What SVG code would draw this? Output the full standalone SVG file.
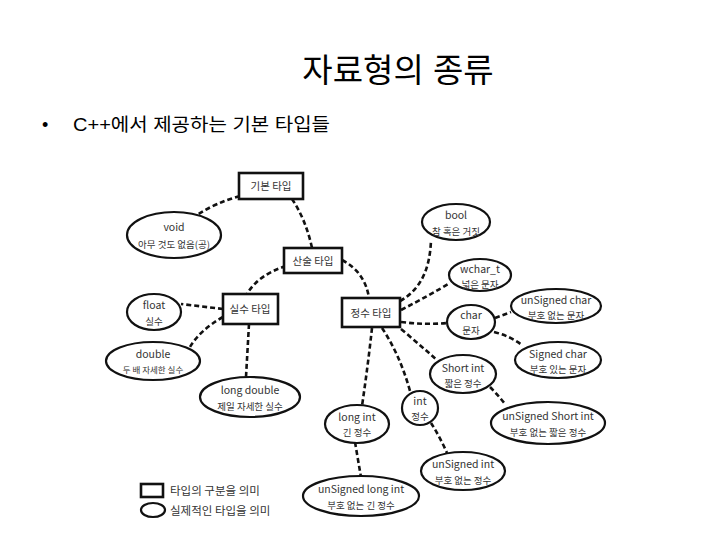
<svg xmlns="http://www.w3.org/2000/svg" width="728" height="546" viewBox="0 0 728 546">
<style>
.bg{fill:#fff}
.title{font-family:"Liberation Sans","Noto Sans CJK KR",sans-serif;font-size:33px;fill:#000}
.sub{font-family:"Liberation Sans","Noto Sans CJK KR",sans-serif;font-size:18px;fill:#000}
.box{fill:#fff;stroke:#111;stroke-width:2.6}
.ell{fill:#fff;stroke:#111;stroke-width:2.2}
.t{font-family:"Noto Sans CJK KR","Noto Sans",sans-serif;font-size:10.5px;fill:#333;text-anchor:middle}
.k{font-size:9.5px}
.lg{font-family:"Noto Sans CJK KR","Noto Sans",sans-serif;font-size:11.5px;fill:#333}
.c{fill:none;stroke:#111;stroke-width:2.6;stroke-dasharray:5 3}
</style>
<rect class="bg" width="728" height="546"/>
<text class="title" x="398" y="82" text-anchor="middle">자료형의 종류</text>
<text class="sub" x="42" y="131">•</text>
<text class="sub" x="73" y="131" textLength="257" lengthAdjust="spacingAndGlyphs">C++에서 제공하는 기본 타입들</text>

<g id="connectors">
<path class="c" d="M240,196 Q215,203 197,215"/>
<path class="c" d="M292,199 Q306,220 312,248"/>
<path class="c" d="M286,266 Q258,275 247,294"/>
<path class="c" d="M342,260 Q365,272 369,298"/>
<path class="c" d="M223,309 L181,304"/>
<path class="c" d="M223,317 Q200,330 190,347"/>
<path class="c" d="M249,324 L246,377"/>
<path class="c" d="M400,301 C420,290 430,270 431,240"/>
<path class="c" d="M401,310 Q430,295 450,283"/>
<path class="c" d="M401,322 Q425,325 447,323"/>
<path class="c" d="M401,329 Q420,345 437,360"/>
<path class="c" d="M382,328 Q400,355 410,391"/>
<path class="c" d="M372,328 Q368,365 362,406"/>
<path class="c" d="M495,318 L511,312"/>
<path class="c" d="M494,332 Q510,336 522,345"/>
<path class="c" d="M490,387 Q498,395 505,404"/>
<path class="c" d="M431,423 Q440,437 447,453"/>
<path class="c" d="M355,442 Q358,460 361,477"/>
</g>

<g id="n-basic"><rect class="box" x="239" y="173" width="64" height="26" stroke-width="3.2"/><text class="t" x="271" y="190">기본 타입</text></g>
<g id="n-void"><ellipse class="ell" cx="174" cy="235" rx="47" ry="23"/><text class="t" x="174" y="231">void</text><text class="t k" x="174" y="248">아무 것도 없음(공)</text></g>
<g id="n-arith"><rect class="box" x="284" y="248" width="58" height="25"/><text class="t" x="313" y="265">산술 타입</text></g>
<g id="n-bool"><ellipse class="ell" cx="456" cy="222" rx="34" ry="18"/><text class="t" x="456" y="219">bool</text><text class="t k" x="456" y="235">참 혹은 거짓</text></g>
<g id="n-wchar"><ellipse class="ell" cx="480" cy="275" rx="31" ry="16"/><text class="t" x="480" y="273">wchar_t</text><text class="t k" x="480" y="288">넓은 문자</text></g>
<g id="n-uchar"><ellipse class="ell" cx="556" cy="306" rx="45" ry="17"/><text class="t" x="556" y="304">unSigned char</text><text class="t k" x="556" y="319">부호 없는 문자</text></g>
<g id="n-char"><ellipse class="ell" cx="471" cy="322" rx="24" ry="17"/><text class="t" x="471" y="319">char</text><text class="t k" x="471" y="334">문자</text></g>
<g id="n-int-type"><rect class="box" x="342" y="298" width="58" height="29"/><text class="t" x="371" y="317">정수 타입</text></g>
<g id="n-schar"><ellipse class="ell" cx="558" cy="360" rx="43" ry="18"/><text class="t" x="558" y="358">Signed char</text><text class="t k" x="558" y="373">부호 있는 문자</text></g>
<g id="n-short"><ellipse class="ell" cx="463" cy="374" rx="33" ry="19"/><text class="t" x="463" y="372">Short int</text><text class="t k" x="463" y="387">짧은 정수</text></g>
<g id="n-float"><ellipse class="ell" cx="154" cy="312" rx="27" ry="18"/><text class="t" x="154" y="309">float</text><text class="t k" x="154" y="325">실수</text></g>
<g id="n-real-type"><rect class="box" x="223" y="294" width="55" height="30"/><text class="t" x="250" y="313">실수 타입</text></g>
<g id="n-double"><ellipse class="ell" cx="153" cy="361" rx="47" ry="19"/><text class="t" x="153" y="358">double</text><text class="t" x="153" y="373" style="font-size:8.5px">두 배 자세한 실수</text></g>
<g id="n-ldouble"><ellipse class="ell" cx="250" cy="397" rx="50" ry="20"/><text class="t" x="250" y="394">long double</text><text class="t k" x="250" y="410">제일 자세한 실수</text></g>
<g id="n-int"><ellipse class="ell" cx="420" cy="408" rx="18" ry="17"/><text class="t" x="420" y="405">int</text><text class="t k" x="420" y="420">정수</text></g>
<g id="n-long"><ellipse class="ell" cx="357" cy="424" rx="32" ry="19"/><text class="t" x="357" y="421">long int</text><text class="t k" x="357" y="436">긴 정수</text></g>
<g id="n-ushort"><ellipse class="ell" cx="548" cy="423" rx="57" ry="21"/><text class="t" x="548" y="420">unSigned Short int</text><text class="t k" x="548" y="436">부호 없는 짧은 정수</text></g>
<g id="n-uint"><ellipse class="ell" cx="463" cy="471" rx="42" ry="19"/><text class="t" x="463" y="468">unSigned int</text><text class="t k" x="463" y="484">부호 없는 정수</text></g>
<g id="n-ulong"><ellipse class="ell" cx="361" cy="496" rx="58" ry="20"/><text class="t" x="361" y="493">unSigned long int</text><text class="t k" x="361" y="509">부호 없는 긴 정수</text></g>

<g id="legend">
<rect class="box" x="141" y="484" width="22" height="13" stroke-width="2"/>
<text class="lg" x="170" y="495">타입의 구분을 의미</text>
<ellipse class="ell" cx="153" cy="510" rx="12" ry="7"/>
<text class="lg" x="170" y="515">실제적인 타입을 의미</text>
</g>
</svg>
